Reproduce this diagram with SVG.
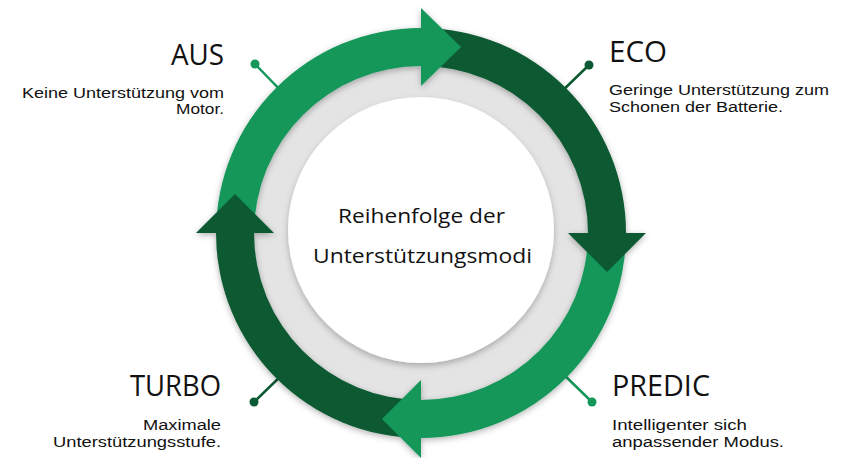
<svg xmlns="http://www.w3.org/2000/svg" width="852" height="458" viewBox="0 0 852 458">
<style>
.light{fill:#13975a}
.dark{fill:#0b5a33}
.head{font-family:"Open Sans","Liberation Sans",sans-serif;font-size:29px;font-weight:400;fill:#111}
.body{font-family:"Liberation Sans",Arial,sans-serif;font-size:14px;font-weight:400;fill:#111}
.center{font-family:"Open Sans","Liberation Sans",sans-serif;font-size:20px;font-weight:400;fill:#111}
.pinL{stroke:#13975a;stroke-width:2.5;fill:none}
.pinD{stroke:#0b5a33;stroke-width:2.5;fill:none}
</style>
<defs>
<filter id="sh" x="-20%" y="-20%" width="140%" height="140%">
<feDropShadow dx="0" dy="2" stdDeviation="3" flood-color="#000" flood-opacity="0.3"/>
</filter>
<filter id="sh2" x="-20%" y="-20%" width="140%" height="140%">
<feDropShadow dx="0" dy="3" stdDeviation="3" flood-color="#000" flood-opacity="0.25"/>
</filter>
</defs>
<rect width="852" height="458" fill="#fff"/>

<!-- pins -->
<g id="aus">
<line class="pinL" x1="255" y1="64" x2="285" y2="95"/>
<circle cx="255" cy="64" r="4.5" fill="#13975a"/>
<text class="head" x="171" y="65" textLength="53" lengthAdjust="spacingAndGlyphs">AUS</text>
<text class="body" x="22" y="98" textLength="202" lengthAdjust="spacingAndGlyphs">Keine Unterstützung vom</text>
<text class="body" x="176" y="114" textLength="48" lengthAdjust="spacingAndGlyphs">Motor.</text>
</g>
<g id="eco">
<line class="pinD" x1="589" y1="65" x2="558" y2="95"/>
<circle cx="589" cy="65" r="4.5" fill="#0b5a33"/>
<text class="head" x="609" y="62" textLength="58" lengthAdjust="spacingAndGlyphs">ECO</text>
<text class="body" x="609" y="95" textLength="220" lengthAdjust="spacingAndGlyphs">Geringe Unterstützung zum</text>
<text class="body" x="609" y="112" textLength="174" lengthAdjust="spacingAndGlyphs">Schonen der Batterie.</text>
</g>
<g id="turbo">
<line class="pinD" x1="254" y1="402" x2="285" y2="372"/>
<circle cx="254" cy="402" r="4.5" fill="#0b5a33"/>
<text class="head" x="130" y="396" textLength="91" lengthAdjust="spacingAndGlyphs">TURBO</text>
<text class="body" x="143" y="430" textLength="78" lengthAdjust="spacingAndGlyphs">Maximale</text>
<text class="body" x="53" y="447" textLength="168" lengthAdjust="spacingAndGlyphs">Unterstützungsstufe.</text>
</g>
<g id="predic">
<line class="pinL" x1="592" y1="402" x2="560" y2="371"/>
<circle cx="592" cy="402" r="4.5" fill="#13975a"/>
<text class="head" x="612" y="396" textLength="98" lengthAdjust="spacingAndGlyphs">PREDIC</text>
<text class="body" x="612" y="430" textLength="135" lengthAdjust="spacingAndGlyphs">Intelligenter sich</text>
<text class="body" x="612" y="447" textLength="172" lengthAdjust="spacingAndGlyphs">anpassender Modus.</text>
</g>

<!-- gray ring and white centre -->
<g id="hub">
<circle cx="421" cy="233" r="175" fill="#e4e4e4"/>
<circle cx="421" cy="230" r="133" fill="#fff" filter="url(#sh2)"/>
<text class="center" x="338" y="223" textLength="167" lengthAdjust="spacingAndGlyphs">Reihenfolge der</text>
<text class="center" x="313" y="263" textLength="219" lengthAdjust="spacingAndGlyphs">Unterstützungsmodi</text>
</g>

<!-- cycle arrows -->
<g id="connectors" filter="url(#sh)">
<path class="light" d="M216 233 A205 205 0 0 1 421 28 L421 66 A167 167 0 0 0 254 233 Z"/>
<path class="dark" d="M421 28 A205 205 0 0 1 626 233 L588 233 A167 167 0 0 0 421 66 Z"/>
<path class="light" d="M626 233 A205 205 0 0 1 421 438 L421 400 A167 167 0 0 0 588 233 Z"/>
<path class="dark" d="M421 438 A205 205 0 0 1 216 233 L254 233 A167 167 0 0 0 421 400 Z"/>
<polygon class="light" points="421,8 461,47 421,86"/>
<polygon class="dark" points="646,233 607,272 568,233"/>
<polygon class="light" points="421,458 382,419 421,380"/>
<polygon class="dark" points="196,233 235,194 274,233"/>
</g>
</svg>
